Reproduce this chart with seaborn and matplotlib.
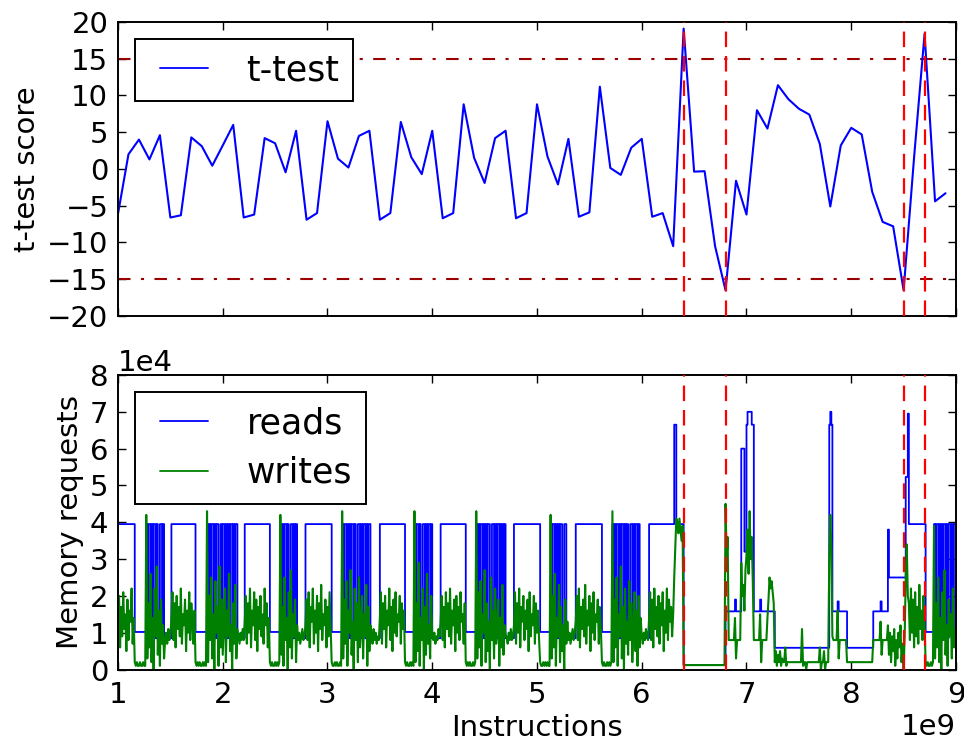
import numpy as np
import pandas as pd
import matplotlib
matplotlib.use("Agg")
import matplotlib.pyplot as plt
import seaborn as sns

# ---------------------------------------------------------------------------
# t-test score, one sample every 1e8 instructions starting at 1e9
# ---------------------------------------------------------------------------
ttest_start, ttest_step = 1.0e9, 1.0e8
ttest_score = [
    -6.1, 2.0, 4.0, 1.3, 4.6, -6.6, -6.3, 4.3, 3.1, 0.45,
    3.2, 6.0, -6.6, -6.2, 4.2, 3.5, -0.45, 5.2, -6.9, -6.0,
    6.5, 1.4, 0.2, 4.5, 5.2, -6.9, -6.0, 6.4, 1.6, -0.7,
    5.2, -6.7, -6.0, 8.8, 1.5, -1.9, 4.2, 5.2, -6.7, -6.0,
    8.8, 1.7, -2.1, 4.1, -6.5, -5.9, 11.2, 0.14, -0.8, 2.9,
    4.1, -6.5, -6.0, -10.5, 19.1, -0.36, -0.3, -10.5, -16.5, -1.6,
    -6.2, 8.0, 5.5, 11.4, 9.5, 8.2, 7.4, 3.4, -5.1, 3.2,
    5.6, 4.7, -3.1, -7.2, -7.8, -16.5, 1.6, 18.4, -4.4, -3.3,
]
threshold = 15

# ---------------------------------------------------------------------------
# Memory requests (thousands), one sample every 1e7 instructions from 1e9
# ---------------------------------------------------------------------------
mem_start, mem_step = 1.0e9, 1.0e7
HI, MID, LO = 39.5, 10.2, 8.5

reads_k = (
    [HI] * 16 + [MID] * 11
    + [HI, LO, HI, HI, LO, HI, LO, HI, HI, LO, HI, LO, LO, HI, HI, LO, HI, LO] + [LO] * 6
    + [HI] * 23 + [MID] * 11
    + [HI, LO, HI, LO, HI, HI, LO, HI, LO, HI, HI, LO, LO, HI, LO, HI, HI, LO, HI, LO,
       HI, LO, HI, HI, LO, HI, LO, HI, HI, LO] + [LO] * 6
    + [HI] * 24 + [MID] * 10
    + [HI, LO, HI, LO, HI, HI, LO, HI, LO, LO, HI, HI, LO, HI, LO, HI, LO] + [LO] * 7
    + [HI] * 25 + [MID] * 10
    + [HI, LO, HI, HI, LO, HI, LO, HI, LO, HI, HI, LO, HI, LO, LO, HI, HI, LO, HI, LO,
       HI, HI, LO, HI, LO, HI, HI, LO] + [LO] * 8
    + [HI] * 24 + [MID] * 9
    + [HI, LO, HI, HI, LO, HI, LO, LO, HI, HI, LO, HI, LO, HI, HI, LO, HI, LO] + [LO] * 7
    + [HI] * 24 + [MID] * 10
    + [HI, LO, HI, LO, HI, HI, LO, HI, LO, HI, LO, HI, HI, LO, LO, HI, HI, LO, HI, LO,
       HI, HI, LO, HI, LO, HI, LO, HI, LO] + [LO] * 7
    + [HI] * 25 + [MID] * 10
    + [HI, LO, HI, HI, LO, HI, LO, HI, LO, HI, HI, LO, LO, HI, HI, LO, LO] + [LO] * 7
    + [HI] * 25 + [MID] * 10
    + [HI, LO, HI, LO, HI, HI, LO, HI, LO, HI, HI, LO, HI, LO, HI, LO, LO, HI, HI, LO,
       HI, LO, HI, HI, LO, HI, LO, LO] + [LO] * 7
    + [HI] * 24
    + [66.5] * 2 + [HI] * 7 + [1.2] * 40
    + [15.8] * 9 + [19.0] + [15.8] * 5
    + [60.0] * 3 + [32.0] * 2
    + [66.5, 70.0, 70.0, 70.0, 70.0, 66.5, 66.5]
    + [15.8] * 6 + [19.0] + [15.8] * 13
    + [5.9] * 52
    + [66.5, 70.0, 66.5]
    + [15.8] * 5 + [18.5] + [15.8] * 8
    + [5.9] * 25
    + [15.8] * 7 + [18.5] + [15.8] * 6
    + [38.0] + [25.0] * 16 + [52.3] * 2 + [69.5]
    + [HI] * 16 + [MID] * 8
    + [HI, MID, HI, HI, LO, HI, MID, HI, LO, HI, HI, MID, HI, LO, HI, HI, MID, HI, LO, HI, HI]
)

writes_k = (
    [12, 20, 6, 17, 9, 21, 11, 15, 5, 19, 8, 16, 13, 22, 7, 14]
    + [2, 1, 2, 1, 1, 2, 1, 1, 2, 1, 1]
    + [42, 3, 18, 6, 26, 2, 14, 0, 22, 9, 28, 4, 16, 1, 19, 7, 12, 3]
    + [8, 10, 7, 11, 8, 9]
    + [14, 21, 8, 18, 6, 20, 11, 17, 9, 22, 7, 15, 12, 19, 5, 16, 10, 21, 8, 18, 13, 7, 16]
    + [2, 1, 2, 1, 2, 1, 1, 2, 1, 2, 1]
    + [43, 2, 20, 8, 25, 3, 15, 0, 24, 10, 17, 1, 28, 6, 19, 4, 13, 22, 2, 16,
       9, 26, 5, 12, 0, 18, 7, 23, 3, 11]
    + [9, 7, 10, 8, 11, 8]
    + [13, 20, 7, 18, 10, 22, 6, 16, 12, 21, 8, 19, 5, 17, 11, 20, 9, 15, 7, 22, 12, 18, 6, 14]
    + [2, 1, 2, 1, 1, 2, 1, 2, 1, 2]
    + [42, 4, 17, 1, 25, 8, 14, 0, 21, 6, 27, 3, 15, 9, 19, 2, 12]
    + [8, 10, 7, 9, 11, 8, 9]
    + [12, 19, 8, 21, 6, 17, 13, 22, 7, 16, 10, 20, 5, 18, 11, 23, 8, 15, 12, 19, 6, 17, 9, 21, 11]
    + [2, 1, 1, 2, 1, 2, 1, 1, 2, 1]
    + [43, 3, 19, 7, 24, 1, 16, 10, 27, 4, 13, 0, 22, 8, 18, 2, 25, 6, 11, 20,
       3, 15, 9, 23, 1, 17, 5, 12]
    + [9, 7, 11, 8, 10, 7, 9, 8]
    + [14, 21, 7, 18, 11, 20, 6, 16, 12, 22, 8, 17, 5, 19, 10, 21, 9, 15, 13, 20, 7, 18, 11, 16]
    + [2, 1, 2, 1, 1, 2, 1, 2, 1]
    + [43, 2, 18, 5, 29, 1, 14, 8, 22, 0, 17, 4, 26, 7, 12, 3, 20, 9]
    + [8, 10, 7, 9, 8, 11, 9]
    + [13, 20, 8, 17, 6, 21, 11, 18, 9, 22, 7, 16, 12, 19, 5, 20, 10, 17, 8, 21, 13, 15, 7, 18]
    + [2, 1, 2, 1, 2, 1, 1, 2, 1, 2]
    + [43, 3, 21, 6, 24, 1, 15, 10, 27, 2, 18, 5, 13, 0, 25, 8, 16, 3, 22, 7,
       11, 19, 1, 14, 6, 23, 4, 12, 9]
    + [9, 7, 10, 8, 11, 8, 9]
    + [12, 21, 7, 18, 10, 22, 6, 17, 13, 20, 8, 16, 11, 19, 5, 21, 9, 15, 12, 20, 7, 18, 10, 16, 8]
    + [2, 1, 1, 2, 1, 2, 1, 2, 1, 1]
    + [42, 3, 20, 6, 26, 1, 14, 9, 23, 2, 17, 5, 12, 0, 19, 7, 13]
    + [8, 10, 7, 9, 11, 8, 10]
    + [13, 20, 8, 22, 6, 17, 11, 19, 9, 23, 7, 16, 12, 20, 5, 18, 10, 21, 8, 15, 13, 19, 7, 17, 11]
    + [2, 1, 2, 1, 1, 2, 1, 2, 1, 2]
    + [43, 2, 19, 6, 25, 1, 15, 9, 28, 3, 17, 0, 22, 7, 13, 4, 24, 8, 18, 2,
       11, 21, 5, 16, 1, 20, 6, 14]
    + [9, 7, 10, 8, 11, 9, 8]
    + [14, 21, 8, 19, 6, 22, 11, 17, 9, 20, 7, 18, 12, 21, 5, 16, 10, 22, 8, 19, 13, 17, 9, 15]
    + [25, 33, 41, 40, 37, 41, 38, 35, 39]
    + [1.2] * 40
    + [45, 30, 36, 8, 8, 8, 8, 8, 8, 14, 3, 8, 8, 8, 8]
    + [29, 20, 23, 16, 27]
    + [31, 38, 26, 43, 30, 36, 24]
    + [8, 8, 8, 8, 8, 8, 15, 2, 8, 8, 8, 8, 8, 14, 19, 25, 22, 24, 21, 18]
    + [2, 5, 1, 4, 2, 5, 1, 3, 2, 2, 6, 1, 2, 2, 2, 2, 2, 2, 2, 2,
       2, 2, 2, 2, 2, 2, 11, 1, 2, 2, 0, 2, 2, 2, 2, 2, 2, 2, 2, 2,
       2, 2, 2, 6, 0, 2, 2, 5, 0, 2, 2, 2]
    + [30, 42, 33]
    + [9, 8, 8, 8, 8, 16, 3, 8, 8, 8, 8, 8, 8, 8]
    + [2] * 25
    + [8, 8, 8, 8, 8, 8, 8, 13, 4, 8, 8, 8, 8, 8]
    + [12, 4, 10, 2, 9, 5, 11, 1, 8, 3, 10, 6, 12, 2, 7, 0, 9]
    + [25, 34, 20]
    + [18, 8, 22, 10, 19, 6, 21, 9, 17, 7, 23, 11, 16, 8, 20, 12]
    + [2, 1, 2, 1, 1, 2, 1, 2]
    + [39, 3, 18, 6, 25, 2, 14, 0, 21, 8, 27, 4, 12, 1, 19, 9, 15, 3, 22, 6, 11]
)

# ---------------------------------------------------------------------------
# Style
# ---------------------------------------------------------------------------
sns.set_theme(style="white", rc={
    "axes.edgecolor": "black",
    "axes.linewidth": 1.4,
    "xtick.direction": "in",
    "ytick.direction": "in",
    "xtick.top": True,
    "ytick.right": True,
    "xtick.bottom": True,
    "ytick.left": True,
    "xtick.major.size": 6,
    "ytick.major.size": 6,
    "xtick.major.width": 1.0,
    "ytick.major.width": 1.0,
    "xtick.major.pad": 8,
    "ytick.major.pad": 7,
    "xtick.color": "black",
    "ytick.color": "black",
    "axes.labelcolor": "black",
    "text.color": "black",
    "font.size": 21,
    "axes.labelsize": 21,
    "xtick.labelsize": 21,
    "ytick.labelsize": 21,
    "axes.grid": False,
})
plt.rcParams["font.family"] = ["DejaVu Sans"]

fig = plt.figure(figsize=(9.64, 7.43), dpi=100)
ax_t = fig.add_axes([0.1224, 0.5747, 0.8693, 0.3957])
ax_m = fig.add_axes([0.1224, 0.0989, 0.8693, 0.3964], sharex=ax_t)

# ---------------------------------------------------------------------------
# Top panel: t-test score
# ---------------------------------------------------------------------------
ttest_df = pd.DataFrame({
    "instr": ttest_start + ttest_step * np.arange(len(ttest_score)),
    "score": ttest_score,
})
sns.lineplot(data=ttest_df, x="instr", y="score", ax=ax_t, color="blue",
             lw=1.5, label="t-test", estimator=None)
for lvl in (threshold, -threshold):
    ax_t.axhline(lvl, color="#9a0000", lw=1.5, ls=(0, (6, 5, 1.5, 5)), zorder=1)

events = ttest_df.loc[ttest_df["score"].abs() > threshold, "instr"]
for ax in (ax_t, ax_m):
    for ev in events:
        ax.axvline(ev, color="red", lw=1.6, ls=(0, (7, 4)), zorder=3)

ax_t.set_ylim(-20, 20)
ax_t.set_yticks(np.arange(-20, 21, 5))
ax_t.set_ylabel("t-test score")
ax_t.set_xlabel("")
ax_t.tick_params(labelbottom=False)

# ---------------------------------------------------------------------------
# Bottom panel: memory requests
# ---------------------------------------------------------------------------
reads_df = pd.DataFrame({
    "instr": mem_start + mem_step * np.arange(len(reads_k)),
    "requests": np.asarray(reads_k) * 1e3,
})
writes_df = pd.DataFrame({
    "instr": mem_start + mem_step * np.arange(len(writes_k)),
    "requests": np.asarray(writes_k, dtype=float) * 1e3,
})
sns.lineplot(data=reads_df, x="instr", y="requests", ax=ax_m, color="blue",
             lw=1.3, label="reads", drawstyle="steps-post", estimator=None)
sns.lineplot(data=writes_df, x="instr", y="requests", ax=ax_m, color="green",
             lw=1.5, label="writes", estimator=None)

ax_m.set_xlim(1e9, 9e9)
ax_m.set_xticks(np.arange(1, 10) * 1e9)
ax_m.set_ylim(0, 8e4)
ax_m.set_yticks(np.arange(0, 9) * 1e4)
ax_m.ticklabel_format(axis="both", style="sci", scilimits=(0, 0), useMathText=False)
ax_m.set_xlabel("Instructions")
ax_m.set_ylabel("Memory requests")
ax_t.xaxis.get_offset_text().set_visible(False)
ax_m.xaxis.get_offset_text().set_fontsize(21)
ax_m.yaxis.get_offset_text().set_fontsize(21)

for ax in (ax_t, ax_m):
    leg = ax.legend(loc="upper left", fontsize=25, numpoints=2, handlelength=2.0,
                    handletextpad=0.8, borderpad=0.4, borderaxespad=0.5,
                    labelspacing=0.45, frameon=True, fancybox=False,
                    edgecolor="black", framealpha=1.0)
    leg.get_frame().set_linewidth(1.4)
    for line in leg.get_lines():
        line.set_linewidth(1.3)
    for spine in ax.spines.values():
        spine.set_visible(True)

fig.savefig("out.png", dpi=100, facecolor="white")
